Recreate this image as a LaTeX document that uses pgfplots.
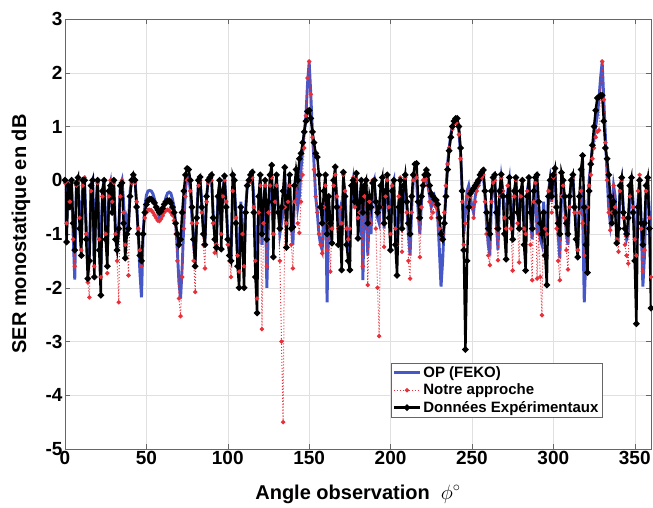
\documentclass[border=0pt]{standalone}
\usepackage{fontspec}
\setmainfont{Liberation Sans}
\usepackage{pgfplots}
\usepackage{pgfplotstable}
\pgfplotsset{compat=1.18}
\definecolor{FekoBlue}{HTML}{4658C8}
\definecolor{NotreRed}{HTML}{E8303A}

% x  FEKO  Notre  Exp
\pgfplotstableread{
x F N E
0 -0.1 -0.05 0.0
1 -0.9 -0.8 -1.15
2 0.0 -0.05 -0.1
3 -0.3 -0.4 -0.5
4 -0.05 0.0 0.0
5 -1.0 -1.1 -0.8
6 -1.85 -1.6 -1.3
7 -0.1 -0.1 -0.05
8 0.0 0.0 0.05
9 -0.6 -0.7 -0.9
10 -1.2 -1.3 -1.4
11 -0.05 -0.1 0.0
12 0.0 0.05 0.0
13 -0.8 -1.0 -1.1
14 -1.5 -1.9 -1.83
15 -1.4 -2.18 -1.5
16 -0.1 -0.2 -0.1
17 0.0 0.0 0.0
18 -1.5 -1.6 -1.8
19 -0.5 -0.6 -0.6
20 0.0 -0.05 0.0
21 -0.9 -1.1 -1.3
22 -1.7 -1.8 -2.14
23 -0.2 -0.3 -0.2
24 0.0 0.0 0.0
25 -0.8 -1.0 -1.1
26 -1.4 -1.73 -1.6
27 -0.2 -0.3 -0.2
28 -0.05 0.0 -0.1
29 -0.5 -0.4 -0.6
30 -0.1 -0.05 0.0
31 -0.9 -1.0 -1.1
32 -1.2 -1.5 -1.3
33 -1.0 -2.27 -0.9
34 -0.1 -0.3 -0.1
35 0.0 0.0 -0.05
36 -0.4 -0.6 -0.8
37 -1.1 -1.2 -1.45
38 -0.7 -1.0 -1.0
39 -0.8 -1.77 -0.9
40 -0.2 -0.3 -0.3
41 0.0 -0.05 0.0
42 0.1 0.05 0.1
43 0.0 -0.05 0.0
44 -0.4 -0.4 -0.5
45 -1.0 -0.9 -1.0
46 -1.7 -1.3 -1.4
47 -2.18 -1.6 -1.5
48 -1.0 -1.0 -1.0
49 -0.5 -0.7 -0.6
50 -0.28 -0.6 -0.45
51 -0.2 -0.55 -0.38
52 -0.19 -0.55 -0.35
53 -0.2 -0.56 -0.35
54 -0.25 -0.6 -0.38
55 -0.35 -0.65 -0.42
56 -0.5 -0.7 -0.5
57 -0.6 -0.75 -0.55
58 -0.7 -0.76 -0.6
59 -0.7 -0.72 -0.58
60 -0.6 -0.66 -0.52
61 -0.45 -0.6 -0.45
62 -0.32 -0.56 -0.4
63 -0.24 -0.55 -0.38
64 -0.22 -0.56 -0.38
65 -0.24 -0.6 -0.42
66 -0.35 -0.65 -0.5
67 -0.5 -0.75 -0.6
68 -0.8 -1.0 -0.8
69 -1.3 -1.5 -1.0
70 -1.9 -2.2 -1.2
71 -2.2 -2.53 -1.1
72 -1.6 -1.8 -0.6
73 -0.8 -0.9 -0.2
74 -0.2 -0.3 0.1
75 0.1 0.0 0.22
76 0.1 0.0 0.2
77 -0.2 -0.2 0.0
78 -0.7 -0.8 -0.5
79 -1.2 -1.5 -1.1
80 -1.5 -2.08 -1.6
81 -0.6 -0.8 -0.7
82 -0.05 -0.1 0.0
83 0.0 0.0 0.06
84 -0.4 -0.6 -0.5
85 -0.9 -1.2 -1.0
86 -1.1 -1.64 -1.2
87 -0.3 -0.4 -0.3
88 0.0 -0.05 0.0
89 0.05 0.0 0.05
90 0.05 0.0 0.1
91 -0.6 -0.8 -0.7
92 -1.0 -1.35 -1.1
93 -1.1 -1.2 -1.25
94 -0.3 -0.3 -0.3
95 -0.05 0.0 0.0
96 -0.8 -1.0 -1.28
97 -0.2 -0.3 -0.2
98 0.05 0.0 0.08
99 -0.4 -0.4 -0.5
100 -1.0 -1.2 -1.1
101 -1.3 -1.5 -1.4
102 -1.4 -1.8 -1.5
103 -0.3 -0.2 0.1
104 -0.1 0.0 0.0
105 -0.6 -0.7 -0.8
106 -1.3 -1.4 -1.6
107 -1.6 -1.7 -2.0
108 -0.4 -0.5 -0.5
109 -0.9 -1.0 -1.2
110 -1.5 -1.6 -2.0
111 -0.5 -0.6 -0.6
112 -0.1 -0.1 -0.1
113 0.0 -0.05 0.0
114 0.05 0.0 0.1
115 0.1 0.05 0.15
116 -0.3 -0.5 -0.6
117 -1.2 -1.5 -1.8
118 -1.8 -2.2 -2.47
119 -0.4 -0.6 -0.3
120 0.0 -0.1 0.1
121 -1.2 -2.77 -1.0
122 -0.6 -0.8 -0.4
123 -0.1 -0.1 0.0
124 -2.0 -1.6 -1.1
125 -0.8 -0.6 -0.4
126 -0.1 -0.1 0.1
127 0.1 0.05 0.28
128 -0.9 -1.0 -1.43
129 -0.3 -0.4 -0.2
130 0.0 -0.1 0.1
131 -0.5 -0.6 -0.6
132 -1.0 -1.5 -0.9
133 -0.8 -3.0 -0.5
134 -0.6 -4.5 -0.2
135 0.1 -0.5 0.24
136 -0.7 -0.8 -1.25
137 -0.3 -0.4 -0.3
138 0.0 -0.1 0.1
139 -0.8 -1.2 -0.9
140 -1.2 -1.64 -0.87
141 -0.3 -0.4 -0.1
142 0.0 -0.1 0.2
143 -0.5 -0.8 0.0
144 -0.3 -0.98 0.4
145 0.2 -0.4 0.5
146 0.6 0.1 0.7
147 0.9 0.6 0.9
148 1.2 1.2 1.1
149 1.8 1.9 1.28
150 2.2 2.21 1.3
151 1.6 1.6 1.15
152 0.9 0.8 0.9
153 0.3 0.2 0.7
154 -0.3 -0.3 0.5
155 -0.6 -0.6 0.43
156 -1.0 -1.0 0.1
157 -1.2 -1.2 -0.5
158 -1.3 -1.36 -0.8
159 -0.5 -0.5 -0.2
160 -0.1 -0.1 0.1
161 -2.27 -1.3 -1.0
162 -0.6 -0.8 -0.3
163 -0.9 -1.7 -0.8
164 -0.6 -0.9 -1.17
165 -0.1 -0.1 0.0
166 0.05 0.1 0.25
167 -0.3 -0.3 -0.5
168 -0.8 -0.9 -1.2
169 -0.6 -0.5 -0.9
170 -1.0 -0.8 -1.67
171 0.0 0.1 0.15
172 -0.2 -0.2 -0.3
173 -0.9 -0.9 -1.2
174 -1.2 -1.1 -1.5
175 -1.0 -0.9 -1.67
176 -0.2 -0.1 -0.1
177 0.0 0.05 0.0
178 -0.5 -0.5 -0.4
179 0.0 0.0 0.13
180 -0.8 -0.7 -1.08
181 -0.9 -0.6 -0.4
182 -0.1 0.0 0.0
183 -1.86 -1.6 -0.6
184 -0.3 -0.3 -0.1
185 -0.05 0.0 0.0
186 -1.4 -1.95 -0.8
187 -0.6 -0.4 -0.3
188 -1.0 -0.8 -0.5
189 -0.1 0.0 -0.05
190 0.0 0.0 0.0
191 -0.5 -0.9 -0.4
192 -0.7 -2.0 -0.6
193 -0.8 -2.9 -0.5
194 -0.2 -0.5 -0.1
195 0.0 0.05 0.05
196 -0.9 -1.24 -0.8
197 -0.3 -0.3 -0.2
198 0.0 0.0 0.1
199 -0.5 -0.5 -0.7
200 -0.9 -1.0 -1.3
201 -0.1 -0.1 -0.2
202 0.0 0.0 0.0
203 -0.9 -0.9 -1.2
204 -1.3 -1.2 -1.77
205 -0.4 -0.3 -0.5
206 -0.2 0.05 0.0
207 -0.9 -1.33 -0.9
208 -0.2 -0.1 -0.1
209 0.0 0.05 0.1
210 -0.5 -0.6 -0.4
211 -1.0 -1.5 -0.8
212 -1.4 -1.83 -1.0
213 -0.5 -0.6 -0.3
214 0.0 0.0 0.1
215 0.1 0.1 0.3
216 0.0 0.05 0.31
217 -0.6 -0.7 -0.4
218 -1.0 -1.43 -0.7
219 -0.4 -0.5 -0.3
220 -0.1 0.0 -0.1
221 0.0 0.0 0.1
222 0.0 0.05 0.19
223 -0.1 -0.1 0.1
224 -0.3 -0.4 -0.1
225 -0.5 -0.7 -0.25
226 -0.4 -0.6 -0.3
227 -0.3 -0.45 -0.35
228 -0.4 -0.5 -0.37
229 -0.7 -0.7 -0.45
230 -1.3 -0.9 -0.7
231 -1.98 -1.1 -1.0
232 -1.5 -1.0 -1.1
233 -0.8 -0.6 -0.8
234 -0.2 -0.1 -0.3
235 0.3 0.3 0.2
236 0.6 0.6 0.55
237 0.85 0.8 0.8
238 1.0 0.95 1.0
239 1.1 1.05 1.1
240 1.12 1.1 1.15
241 1.1 1.05 1.15
242 0.9 0.85 1.0
243 0.5 0.4 0.6
244 -0.2 -0.4 -0.2
245 -1.0 -1.2 -1.3
246 -0.6 -0.8 -3.15
247 -0.2 -0.3 -1.5
248 -0.1 -0.2 -0.5
249 -0.3 -0.3 -0.25
250 -0.5 -0.5 -0.2
251 -0.6 -0.7 -0.15
252 -0.3 -0.4 -0.1
253 -0.15 -0.2 -0.05
254 -0.1 -0.1 0.0
255 0.0 0.0 0.1
256 0.1 0.05 0.15
257 0.1 0.1 0.19
258 -0.3 -0.4 -0.2
259 -0.8 -1.0 -0.6
260 -1.2 -1.4 -0.9
261 -1.4 -1.58 -1.0
262 -0.4 -0.4 -0.2
263 0.0 -0.05 0.05
264 0.05 0.0 0.1
265 -0.8 -0.9 -0.6
266 -1.3 -1.49 -0.9
267 -0.3 -0.3 -0.2
268 0.05 0.05 0.11
269 -0.2 -0.2 -0.3
270 -0.6 -0.7 -1.0
271 -0.8 -0.9 -1.47
272 -0.2 -0.1 -0.3
273 0.0 0.05 0.05
274 -0.6 -0.9 -0.7
275 -1.0 -1.68 -1.1
276 -0.3 -0.3 -0.2
277 0.0 0.0 0.05
278 -0.5 -0.8 -0.6
279 -0.9 -1.53 -0.9
280 -0.3 -0.3 -0.2
281 -0.2 0.0 0.0
282 -0.7 -0.9 -1.2
283 -0.9 -1.0 -1.68
284 -0.2 -0.2 -0.3
285 0.0 0.05 0.05
286 -0.7 -1.2 -0.6
287 -1.1 -1.86 -0.9
288 -0.3 -0.4 -0.2
289 0.0 -0.05 0.05
290 -1.0 -1.83 0.1
291 -0.5 -1.0 -0.4
292 -1.1 -1.8 -0.8
293 -1.2 -2.51 -1.0
294 -0.4 -0.6 -0.6
295 -0.9 -0.9 -1.4
296 -1.0 -1.0 -1.95
297 -0.2 -0.2 -0.3
298 0.0 0.0 0.0
299 -0.4 -0.6 -0.3
300 0.05 0.05 0.1
301 0.1 0.1 0.22
302 -0.6 -0.9 -0.5
303 -1.0 -1.5 -0.8
304 -1.45 -1.86 -1.0
305 -0.3 -0.3 0.14
306 -0.1 -0.1 0.0
307 -0.5 -0.7 -0.3
308 -1.0 -1.3 -0.8
309 -1.2 -1.66 -1.0
310 -0.4 -0.5 -0.3
311 0.0 0.0 0.0
312 0.05 0.05 0.1
313 -0.4 -0.6 -0.5
314 -0.9 -1.1 -1.1
315 -1.2 -1.3 -1.43
316 -0.5 -0.6 -0.3
317 -0.1 -0.2 0.2
318 -0.6 -0.8 0.46
319 -2.27 -1.4 -0.5
320 -1.4 -1.2 -1.2
321 -0.6 -0.5 -1.72
322 0.0 -0.1 -0.2
323 0.3 0.1 0.3
324 0.6 0.4 0.65
325 0.8 0.6 1.0
326 1.0 0.8 1.3
327 1.2 0.9 1.53
328 1.5 0.93 1.55
329 1.9 1.6 1.58
330 2.2 2.21 1.58
331 1.5 1.5 1.1
332 0.8 0.7 0.6
333 0.1 0.0 0.4
334 -0.5 -0.6 0.1
335 -0.8 -0.93 -0.3
336 -0.5 -0.6 -0.8
337 -0.1 -0.1 -0.4
338 -0.3 -0.5 -0.6
339 -0.9 -1.1 -1.17
340 -1.0 -1.33 -0.9
341 -0.2 -0.2 -0.1
342 0.0 0.0 0.05
343 -0.5 -0.7 -0.6
344 -0.9 -1.2 -0.9
345 -1.1 -1.4 -1.0
346 -1.0 -1.55 -0.7
347 -0.3 -0.3 -0.1
348 0.0 0.05 0.05
349 -0.4 -0.5 -0.6
350 -1.0 -1.1 -1.5
351 -1.3 -1.4 -2.67
352 -0.4 -0.2 -0.5
353 0.05 0.1 0.0
354 -0.8 -0.9 -0.8
355 -1.98 -1.7 -1.2
356 -1.4 -1.3 -0.8
357 -0.3 -0.2 -0.1
358 0.0 0.05 0.05
359 -0.6 -0.7 -0.9
360 -1.9 -1.8 -2.38
}\sertable

\begin{document}
\begin{tikzpicture}
\begin{axis}[
  scale only axis,
  width=586pt, height=430pt,
  xmin=0, xmax=360, ymin=-5, ymax=3,
  xtick={0,50,...,350},
  ytick={-5,-4,...,3},
  tick align=inside,
  major tick length=5pt,
  tick style={black!60, thin},
  axis line style={black!60, thin},
  grid=major,
  grid style={black!12, thin},
  /pgf/number format/assume math mode=true,
  tick label style={font=\fontsize{19}{19}\selectfont\bfseries},
  yticklabel style={xshift=1pt},
  xticklabel style={yshift=1pt},
  xlabel={Angle observation\ \ $\phi^{\circ}$},
  ylabel={SER monostatique en dB},
  label style={font=\fontsize{20}{20}\selectfont\bfseries},
  xlabel style={at={(axis description cs:0.5,-0.105)}, anchor=center},
  ylabel style={at={(axis description cs:-0.075,0.5)}, anchor=center, rotate=0},
  legend cell align=left,
  legend style={at={(0.556,0.2)}, anchor=north west,
    font=\fontsize{15}{17}\selectfont\bfseries,
    draw=black!60, inner sep=1.5pt, row sep=1pt,
    /tikz/every even column/.append style={column sep=2pt}},
  legend image code/.code={\draw[mark repeat=2,mark phase=2,#1]
    plot coordinates {(0pt,0pt) (13pt,0pt) (26pt,0pt)};},
]
\addplot[FekoBlue, line width=2.9pt, no markers] table[x=x,y=F] {\sertable};
\addlegendentry{OP (FEKO)}
\addplot[NotreRed, line width=1pt, dotted, mark=*, mark size=1.7pt,
  mark options={solid}] table[x=x,y=N] {\sertable};
\addlegendentry{Notre approche}
\addplot[black, line width=2.4pt, mark=*, mark size=1.8pt,
  mark options={solid}] table[x=x,y=E] {\sertable};
\addlegendentry{Données Expérimentaux}
\end{axis}
\pgfresetboundingbox
\path[use as bounding box] ([xshift=-65pt,yshift=-59pt]current axis.south west)
  rectangle ([xshift=2pt,yshift=19pt]current axis.north east);
\end{tikzpicture}
\end{document}
